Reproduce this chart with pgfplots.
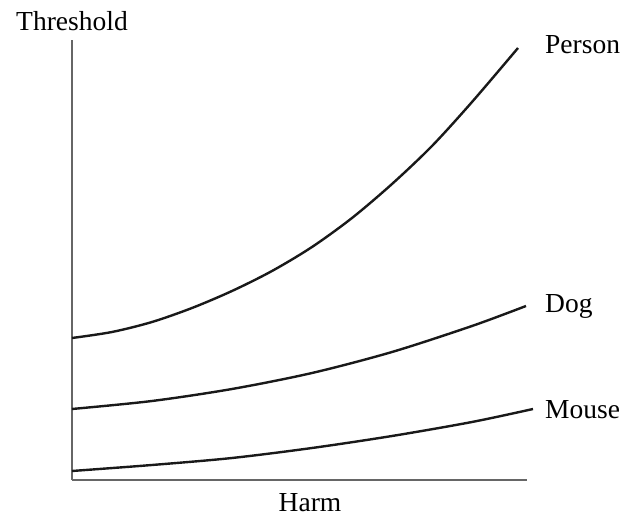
\documentclass[border=0pt]{standalone}
\usepackage{pgfplots}
\pgfplotsset{compat=1.18}
\usepackage{fontspec}
\setmainfont{Liberation Serif}
\begin{document}
\begin{tikzpicture}
\path[use as bounding box] (-72pt,-38pt) rectangle (549pt,480pt);
\begin{axis}[
  at={(0pt,0pt)}, anchor=origin,
  scale only axis, width=455pt, height=440pt,
  xmin=0, xmax=455, ymin=0, ymax=440,
  axis lines=left, axis line style={-, draw=black!60, line width=2pt},
  xtick=\empty, ytick=\empty,
  clip=false,
  font=\fontsize{27.5}{32}\selectfont,
]
\addplot[black!90, line width=2.4pt, smooth, no marks] coordinates {(0,142) (40,148) (80,158) (120,172) (160,189) (200,209) (240,233) (280,262) (320,296) (360,334) (400,378) (446,432)};
\addplot[black!90, line width=2.4pt, smooth, no marks] coordinates {(0,71) (80,79) (160,91) (240,107) (320,128) (400,154) (454,174)};
\addplot[black!90, line width=2.4pt, smooth, no marks] coordinates {(0,9) (80,15) (160,22) (240,32) (320,44) (400,58) (461,71)};
\node at (axis cs:0,459) {Threshold};
\node at (axis cs:238,-23) {Harm};
\node[anchor=west, inner sep=0pt] at (axis cs:473,435) {Person};
\node[anchor=west, inner sep=0pt] at (axis cs:473,174) {Dog};
\node[anchor=west, inner sep=0pt] at (axis cs:473,70) {Mouse};
\end{axis}
\end{tikzpicture}
\end{document}
